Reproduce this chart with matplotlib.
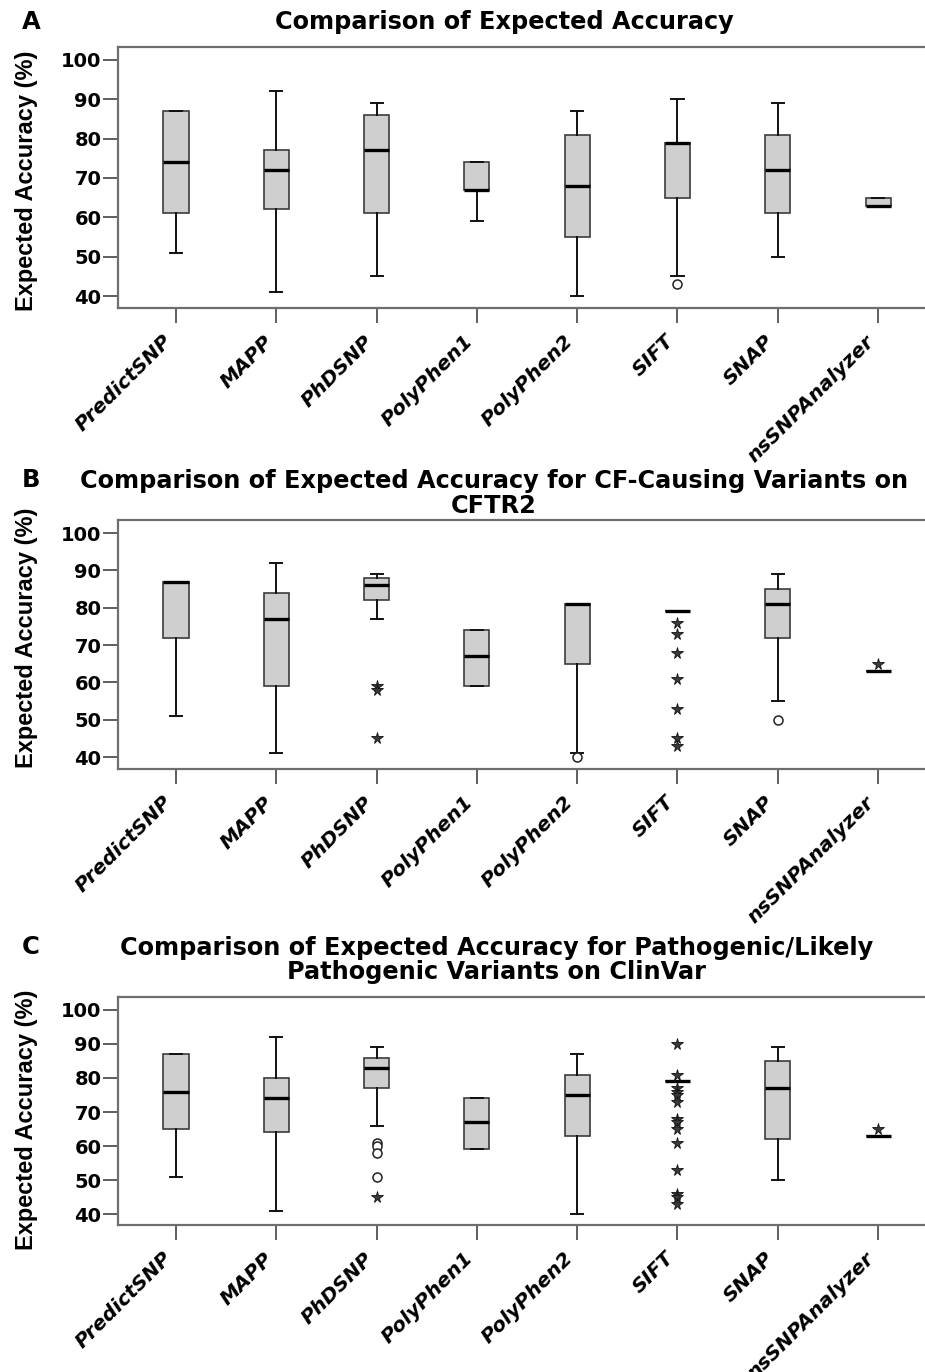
import matplotlib
matplotlib.use("Agg")
import matplotlib.pyplot as plt

tools = ["PredictSNP", "MAPP", "PhDSNP", "PolyPhen1", "PolyPhen2", "SIFT", "SNAP", "nsSNPAnalyzer"]
yticks = [40, 50, 60, 70, 80, 90, 100]

# Panel A
A_low = [51, 41, 45, 59, 40, 45, 50, 63]
A_q1 = [61, 62, 61, 67, 55, 65, 61, 63]
A_med = [74, 72, 77, 67, 68, 79, 72, 63]
A_q3 = [87, 77, 86, 74, 81, 79, 81, 65]
A_high = [87, 92, 89, 74, 87, 90, 89, 65]
A_circles = [[], [], [], [], [], [43], [], []]
A_stars = [[], [], [], [], [], [], [], []]

# Panel B
B_low = [51, 41, 77, 59, 41, 79, 55, 63]
B_q1 = [72, 59, 82, 59, 65, 79, 72, 63]
B_med = [87, 77, 86, 67, 81, 79, 81, 63]
B_q3 = [87, 84, 88, 74, 81, 79, 85, 63]
B_high = [87, 92, 89, 74, 81, 79, 89, 63]
B_circles = [[], [], [], [], [40], [], [50], []]
B_stars = [[], [], [59, 58, 45], [], [], [76, 73, 68, 61, 53, 45, 43], [], [65]]

# Panel C
C_low = [51, 41, 66, 59, 40, 79, 50, 63]
C_q1 = [65, 64, 77, 59, 63, 79, 62, 63]
C_med = [76, 74, 83, 67, 75, 79, 77, 63]
C_q3 = [87, 80, 86, 74, 81, 79, 85, 63]
C_high = [87, 92, 89, 74, 87, 79, 89, 63]
C_circles = [[], [], [61, 60, 58, 51], [], [], [], [], []]
C_stars = [[], [], [45], [], [], [90, 81, 77, 76, 75, 73, 68, 67, 65, 61, 53, 46, 45, 43], [], [65]]

titles = ["Comparison of Expected Accuracy",
          "Comparison of Expected Accuracy for CF-Causing Variants on\nCFTR2",
          "Comparison of Expected Accuracy for Pathogenic/Likely\nPathogenic Variants on ClinVar"]
letters = ["A", "B", "C"]

W, H = 925, 1372
fig = plt.figure(figsize=(W / 100, H / 100), dpi=100)

panels = [
    dict(top=47, bottom=308, ylim=(36.95, 103.3), ty=22, tx=504, ly=22, yl=181,
         data=(A_low, A_q1, A_med, A_q3, A_high, A_circles, A_stars)),
    dict(top=520, bottom=769, ylim=(36.8, 103.5), ty=493.5, tx=494, ly=480, yl=638,
         data=(B_low, B_q1, B_med, B_q3, B_high, B_circles, B_stars)),
    dict(top=997, bottom=1225, ylim=(36.8, 103.8), ty=960, tx=497, ly=947, yl=1120,
         data=(C_low, C_q1, C_med, C_q3, C_high, C_circles, C_stars)),
]

left_px, right_px = 118, 935
x0_px, dx_px = 176, 100.3
edge_col = "#3c3c3c"

for i, p in enumerate(panels):
    ax = fig.add_axes([left_px / W, 1 - p["bottom"] / H,
                       (right_px - left_px) / W, (p["bottom"] - p["top"]) / H])
    low, q1, med, q3, high, circ, stars = p["data"]
    stats = []
    for k in range(len(tools)):
        stats.append(dict(med=med[k], q1=q1[k], q3=q3[k], whislo=low[k], whishi=high[k],
                          fliers=circ[k], label=tools[k]))
    pos = list(range(len(tools)))
    ax.bxp(stats, positions=pos, widths=0.25, capwidths=0.12, patch_artist=True,
           showfliers=True,
           boxprops=dict(facecolor="#cfcfcf", edgecolor=edge_col, linewidth=1.2),
           medianprops=dict(color="black", linewidth=2.4, solid_capstyle="butt"),
           whiskerprops=dict(color="#111111", linewidth=1.4),
           capprops=dict(color="#111111", linewidth=1.4),
           flierprops=dict(marker="o", markersize=6.5, markerfacecolor="white",
                           markeredgecolor="#222222", markeredgewidth=1.1))
    for k in range(len(tools)):
        if stars[k]:
            ax.plot([pos[k]] * len(stars[k]), stars[k], linestyle="none", marker="*",
                    markersize=8.5, markerfacecolor="#3a3a3a", markeredgecolor="#111111",
                    markeredgewidth=0.6, zorder=4)
    ax.set_ylim(*p["ylim"])
    ax.set_xlim(-(x0_px - left_px) / dx_px, (right_px - x0_px) / dx_px)
    ax.set_yticks(yticks)
    ax.set_yticklabels([str(v) for v in yticks], fontfamily="DejaVu Sans",
                       fontweight="bold", fontsize=14)
    ax.set_xticks(pos)
    ax.set_xticklabels(tools, rotation=45, ha="right", va="top",
                       fontfamily="DejaVu Sans", fontweight="bold",
                       fontstyle="oblique", fontsize=14.6)
    ax.tick_params(axis="y", length=11, width=1.1, color="#333333", pad=1)
    ax.tick_params(axis="x", length=11, width=1.1, color="#333333", pad=6)
    for s in ["left", "bottom", "top"]:
        ax.spines[s].set_color("#6e6e6e")
        ax.spines[s].set_linewidth(1.6)
    ax.spines["right"].set_visible(False)

    fig.text(p["tx"] / W, 1 - p["ty"] / H, titles[i], ha="center", va="center",
             fontfamily="DejaVu Sans", fontweight="bold", fontsize=17.3,
             linespacing=1.02)
    fig.text(31 / W, 1 - p["ly"] / H, letters[i], ha="center", va="center",
             fontfamily="DejaVu Sans", fontweight="bold", fontsize=17.5)
    fig.text(27 / W, 1 - p["yl"] / H, "Expected Accuracy (%)", rotation=90,
             ha="center", va="center", fontfamily="Liberation Sans",
             fontweight="bold", fontsize=17)

fig.savefig("out.png", dpi=100)
